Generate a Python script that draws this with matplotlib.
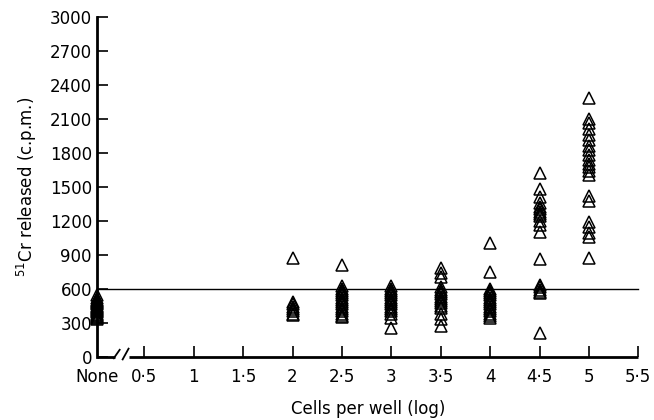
import matplotlib
matplotlib.use("Agg")
import matplotlib.pyplot as plt

# ---- data ----
none_x = 0.025
none_vals = [540, 520, 500, 490, 480, 470, 460, 450, 440, 430, 420, 410,
             400, 390, 380, 370, 360, 350, 340, 330]
groups = [2.0, 2.5, 3.0, 3.5, 4.0, 4.5, 5.0]
values = [
    [870, 480, 460, 440, 420, 400, 380, 370],
    [810, 620, 600, 580, 560, 540, 520, 500, 480, 460, 440, 420, 400, 380, 360, 350],
    [620, 600, 580, 560, 540, 520, 500, 480, 460, 440, 420, 400, 380, 340, 250],
    [780, 740, 700, 610, 590, 570, 550, 530, 510, 490, 470, 450, 430, 380, 330, 270],
    [1000, 750, 600, 580, 560, 540, 520, 500, 480, 460, 440, 420, 400, 380, 360, 340],
    [1620, 1480, 1410, 1360, 1320, 1300, 1280, 1260, 1240, 1200, 1160, 1100, 860,
     630, 610, 590, 570, 560, 210],
    [2280, 2100, 2060, 2010, 1960, 1910, 1860, 1820, 1780, 1740, 1700, 1670, 1640,
     1600, 1420, 1370, 1190, 1140, 1090, 1060, 870],
]
threshold = 600
xticks = [0.5, 1, 1.5, 2, 2.5, 3, 3.5, 4, 4.5, 5, 5.5]
xticklabels = ["0·5", "1", "1·5", "2", "2·5", "3", "3·5", "4", "4·5", "5", "5·5"]
yticks = list(range(0, 3001, 300))

fig = plt.figure(figsize=(6.54, 4.2), dpi=100)
ax = fig.add_axes([0.149, 0.151, 0.827, 0.809])

ax.set_xlim(none_x, 5.5)
ax.set_ylim(0, 3000)

mk = dict(marker='^', linestyle='none', markersize=9, markerfacecolor='none',
          markeredgecolor='black', markeredgewidth=1.1, clip_on=False, zorder=3)
ax.plot([none_x] * len(none_vals), none_vals, **mk)
for g, v in zip(groups, values):
    ax.plot([g] * len(v), v, **mk)

# threshold line
ax.plot([none_x, 5.5], [threshold, threshold], color='black', lw=1.0,
        clip_on=False, zorder=2)

# spines
for s in ['top', 'right', 'bottom']:
    ax.spines[s].set_visible(False)
ax.spines['left'].set_linewidth(2.0)

# broken bottom axis
ax.plot([none_x, 0.20], [0, 0], color='black', lw=2.0, clip_on=False,
        solid_capstyle='butt')
ax.plot([0.34, 5.5], [0, 0], color='black', lw=2.0, clip_on=False,
        solid_capstyle='butt')
ax.plot([0.19, 0.25], [-15, 60], color='black', lw=1.3, clip_on=False)
ax.plot([0.28, 0.34], [-25, 70], color='black', lw=1.3, clip_on=False)

ax.set_yticks(yticks)
ax.set_yticklabels([str(t) for t in yticks])
ax.set_xticks([none_x] + xticks)
ax.set_xticklabels(["None"] + xticklabels)
ax.xaxis.get_major_ticks()[0].tick1line.set_visible(False)

ax.tick_params(axis='y', direction='in', length=8, width=1.2, pad=4,
               labelsize=12)
ax.tick_params(axis='x', direction='in', length=8, width=1.2, pad=8,
               labelsize=12)

ax.set_xlabel("Cells per well (log)", fontsize=12, labelpad=10)
ax.set_ylabel(r"$^{51}$Cr released (c.p.m.)", fontsize=12, labelpad=8)

fig.savefig("out.png", dpi=100)
